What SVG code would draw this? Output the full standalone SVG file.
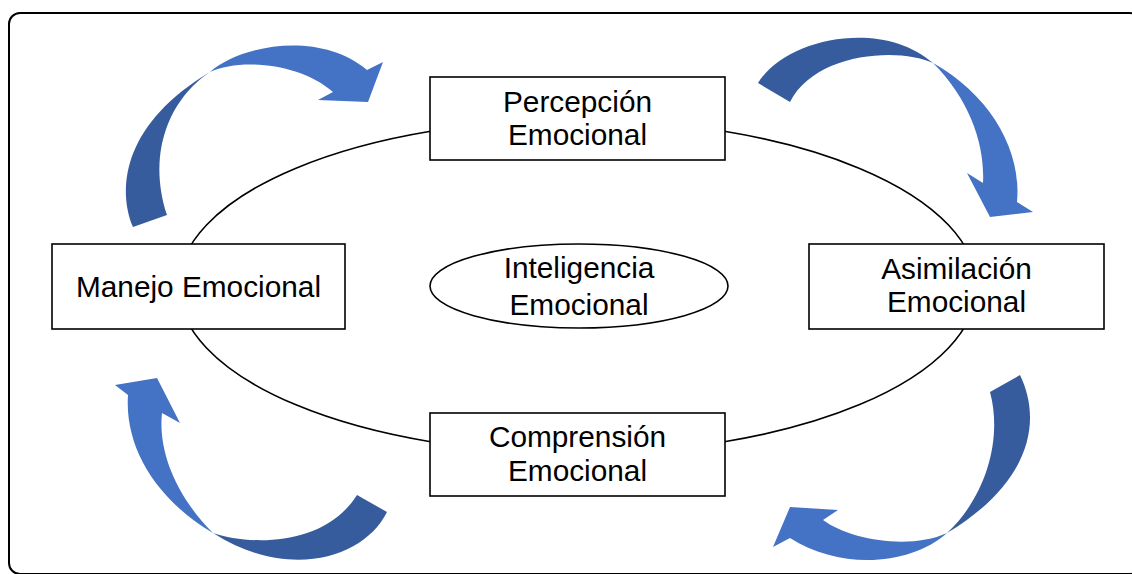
<svg xmlns="http://www.w3.org/2000/svg" width="1132" height="574" viewBox="0 0 1132 574">
  <style>
    .box { fill: #ffffff; stroke: #000000; stroke-width: 1.6; }
    .ring { fill: none; stroke: #000000; stroke-width: 1.6; }
    .lbl { font-family: "Liberation Sans", Arial, sans-serif; font-size: 29.8px; fill: #000000; text-anchor: middle; }
    .dark { fill: #365C9E; }
    .light { fill: #4472C4; }
  </style>
  <rect x="0" y="0" width="1132" height="574" fill="#ffffff"/>
  <rect x="9" y="13" width="1132" height="561" rx="11" ry="11" fill="none" stroke="#000000" stroke-width="2"/>
  <ellipse class="ring" cx="577.5" cy="286.5" rx="399" ry="167"/>

  <g id="connectors">
    <g id="arrow-top-left">
      <path class="dark" d="M133,227 C116,185 126,122 210,72 C172,97 146,150 167,215 Z"/>
      <path class="light" d="M210,72 C240,45 320,30 367,70 L383,62 L368,102 L318,100 L333,92 C300,63 240,58 210,72 Z"/>
    </g>
    <g id="arrow-top-right">
      <path class="dark" d="M758,83 C785,38 882,18 933,63 C900,47 815,52 790,102 Z"/>
      <path class="light" d="M933,63 C990,95 1022,150 1017,202 L1033,212 L990,217 L967,173 L983,183 C985,145 970,100 933,63 Z"/>
    </g>
    <g id="arrow-bottom-right">
      <path class="dark" d="M1020,375 C1042,420 1032,482 947,533 C985,498 1003,440 990,392 Z"/>
      <path class="light" d="M947,533 C910,566 840,570 790,538 L773,547 L790,507 L838,510 L823,520 C850,540 910,550 947,533 Z"/>
    </g>
    <g id="arrow-bottom-left">
      <path class="dark" d="M387,512 C365,557 290,582 213,533 C252,546 325,546 357,495 Z"/>
      <path class="light" d="M213,533 C165,505 124,455 128,395 L115,385 L157,378 L180,423 L162,413 C158,450 175,495 213,533 Z"/>
    </g>
  </g>

  <g id="node-percepcion">
    <rect class="box" x="430" y="77" width="295" height="83"/>
    <text class="lbl" x="577.5" y="111.5">Percepción</text>
    <text class="lbl" x="577.5" y="145">Emocional</text>
  </g>
  <g id="node-manejo">
    <rect class="box" x="52" y="244" width="293" height="85"/>
    <text class="lbl" x="198.5" y="296.5">Manejo Emocional</text>
  </g>
  <g id="node-asimilacion">
    <rect class="box" x="809" y="244" width="295" height="85"/>
    <text class="lbl" x="956.5" y="278.5">Asimilación</text>
    <text class="lbl" x="956.5" y="312">Emocional</text>
  </g>
  <g id="node-comprension">
    <rect class="box" x="430" y="413" width="295" height="83"/>
    <text class="lbl" x="577.5" y="447">Comprensión</text>
    <text class="lbl" x="577.5" y="480.5">Emocional</text>
  </g>
  <g id="node-inteligencia">
    <ellipse class="box" cx="579" cy="286" rx="149" ry="42"/>
    <text class="lbl" x="579" y="277.5">Inteligencia</text>
    <text class="lbl" x="579" y="315">Emocional</text>
  </g>
</svg>
